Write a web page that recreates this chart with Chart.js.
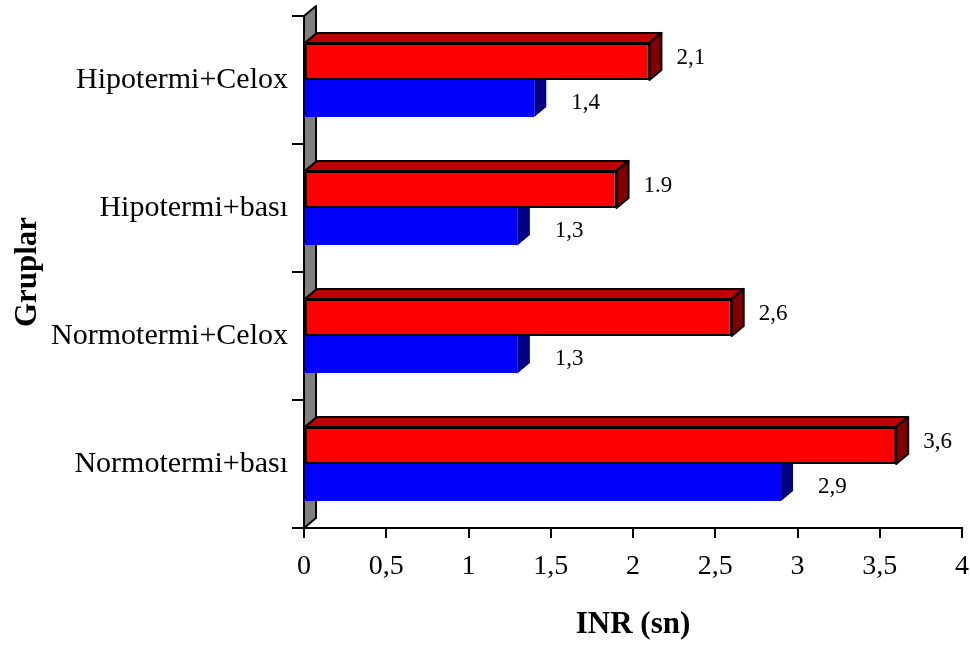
<!DOCTYPE html>
<html>
<head>
<meta charset="utf-8">
<script src="https://cdn.jsdelivr.net/npm/chart.js@4/dist/chart.umd.min.js"></script>
<style>
  html, body { margin: 0; padding: 0; background: #fff; }
  #wrap { width: 970px; height: 649px; position: relative; }
</style>
</head>
<body>
<div id="wrap"><canvas id="chart"></canvas></div>
<script>
// ── Data ──────────────────────────────────────────────────────────────────
const categories = ['Hipotermi+Celox', 'Hipotermi+bası', 'Normotermi+Celox', 'Normotermi+bası'];
const redValues  = [2.1, 1.9, 2.6, 3.6];
const blueValues = [1.4, 1.3, 1.3, 2.9];
const redLabels  = ['2,1', '1.9', '2,6', '3,6'];
const blueLabels = ['1,4', '1,3', '1,3', '2,9'];
const xMin = 0, xMax = 4, xStep = 0.5;

// ── 3D look ───────────────────────────────────────────────────────────────
const SERIF = '"Liberation Serif", "Times New Roman", serif';
const DX = 12, DY = 10;

function poly(ctx, pts, fill, stroke) {
  ctx.beginPath();
  ctx.moveTo(pts[0][0], pts[0][1]);
  for (let i = 1; i < pts.length; i++) ctx.lineTo(pts[i][0], pts[i][1]);
  ctx.closePath();
  ctx.fillStyle = fill;
  ctx.fill();
  if (stroke) {
    ctx.strokeStyle = stroke;
    ctx.lineWidth = 2;
    ctx.lineJoin = 'round';
    ctx.stroke();
  }
}

const box3d = {
  id: 'box3d',
  beforeDatasetsDraw(chart) {
    const { ctx, chartArea: a } = chart;
    ctx.save();
    // gray wall behind the bars
    poly(ctx, [[a.left, a.top], [a.left + DX, a.top - DY], [a.left + DX, a.bottom - DY], [a.left, a.bottom]], '#808080', '#000');

    // blue side faces
    chart.getDatasetMeta(1).data.forEach(b => {
      const t = b.y - b.height / 2, bt = b.y + b.height / 2;
      poly(ctx, [[b.x, t], [b.x + DX, t - DY], [b.x + DX, bt - DY], [b.x, bt]], '#000080', null);
    });

    // red top + side faces
    chart.getDatasetMeta(0).data.forEach(b => {
      const t = b.y - b.height / 2, bt = b.y + b.height / 2;
      poly(ctx, [[b.base, t], [b.base + DX, t - DY], [b.x + DX, t - DY], [b.x, t]], '#c00000', '#000');
      poly(ctx, [[b.x, t], [b.x + DX, t - DY], [b.x + DX, bt - DY], [b.x, bt]], '#800000', '#000');
    });
    ctx.restore();
  },
  afterDatasetsDraw(chart) {
    const ctx = chart.ctx;
    ctx.save();
    ctx.font = '23px ' + SERIF;
    ctx.fillStyle = '#000';
    ctx.textAlign = 'left';
    ctx.textBaseline = 'middle';
    chart.getDatasetMeta(0).data.forEach((b, i) => ctx.fillText(redLabels[i], b.x + 27, b.y - 3));
    chart.getDatasetMeta(1).data.forEach((b, i) => ctx.fillText(blueLabels[i], b.x + 37, b.y + 4));
    ctx.restore();
  }
};

// ── Chart ─────────────────────────────────────────────────────────────────
new Chart(document.getElementById('chart').getContext('2d'), {
  type: 'bar',
  data: {
    labels: categories,
    datasets: [{
      data: redValues,
      backgroundColor: '#ff0000',
      borderColor: '#000',
      borderWidth: 2,
      borderSkipped: false
    }, {
      data: blueValues,
      backgroundColor: '#0000ff',
      borderWidth: 0
    }]
  },
  options: {
    indexAxis: 'y',
    responsive: true,
    maintainAspectRatio: false,
    animation: false,
    categoryPercentage: 0.58,
    barPercentage: 1,
    layout: { padding: { top: 16, right: 8, left: 0, bottom: 0 } },
    plugins: { legend: { display: false }, tooltip: { enabled: false } },
    scales: {
      x: {
        min: xMin, max: xMax,
        ticks: {
          stepSize: xStep,
          color: '#000',
          font: { family: SERIF, size: 28 },
          padding: 12,
          maxRotation: 0,
          callback: v => String(v).replace('.', ',')
        },
        grid: { drawOnChartArea: false, tickLength: 10, color: '#000', lineWidth: 2 },
        border: { color: '#000', width: 2 },
        title: {
          display: true, text: 'INR (sn)', color: '#000',
          font: { family: SERIF, size: 31, weight: 'bold' },
          padding: { top: 0, bottom: 5 }
        },
        afterFit: s => { s.height = 121; s.paddingLeft = 0; s.paddingRight = 0; }
      },
      y: {
        ticks: { color: '#000', font: { family: SERIF, size: 30 }, padding: 4 },
        grid: { drawOnChartArea: false, tickLength: 12, color: '#000', lineWidth: 2, offset: true },
        border: { color: '#000', width: 2 },
        title: {
          display: true, text: 'Gruplar', color: '#000',
          font: { family: SERIF, size: 31, weight: 'bold' },
          padding: { top: 9, bottom: 0 }
        },
        afterFit: s => { s.width = 304; s.paddingTop = 0; s.paddingBottom = 0; }
      }
    }
  },
  plugins: [box3d]
});
</script>
</body>
</html>
